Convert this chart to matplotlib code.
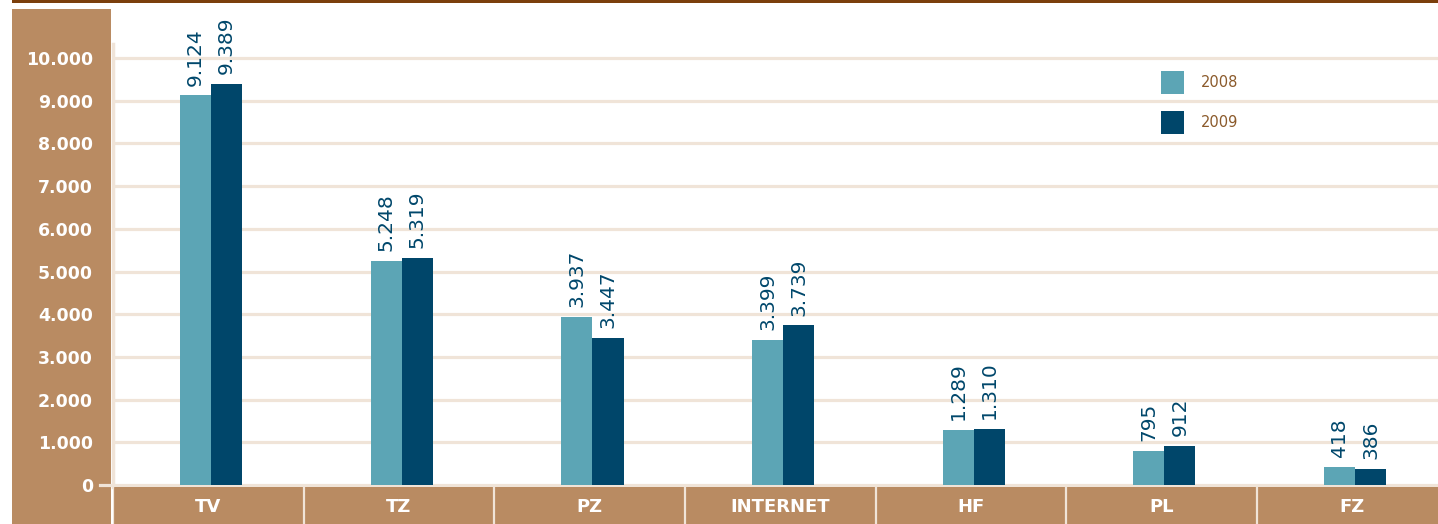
import matplotlib.pyplot as plt
import matplotlib.transforms as mtransforms
from matplotlib.patches import Rectangle
from matplotlib.lines import Line2D

categories = ['TV', 'TZ', 'PZ', 'INTERNET', 'HF', 'PL', 'FZ']
values_2008 = [9124, 5248, 3937, 3399, 1289, 795, 418]
values_2009 = [9389, 5319, 3447, 3739, 1310, 912, 386]
labels_2008 = ['9.124', '5.248', '3.937', '3.399', '1.289', '795', '418']
labels_2009 = ['9.389', '5.319', '3.447', '3.739', '1.310', '912', '386']
yticks = [0, 1000, 2000, 3000, 4000, 5000, 6000, 7000, 8000, 9000, 10000]
ytick_labels = ['0', '1.000', '2.000', '3.000', '4.000', '5.000', '6.000',
                '7.000', '8.000', '9.000', '10.000']
series_names = ['2008', '2009']

c08 = '#5ca5b5'
c09 = '#00466a'
brown = '#b98b62'
grid_c = '#f0e4d8'
W, H = 1438, 524

fig = plt.figure(figsize=(W / 100, H / 100), dpi=100)
fig.patch.set_facecolor('white')

# top rule and left brown panel (behind the axes)
fig.add_artist(Rectangle((12 / W, 1 - 3 / H), 1, 3 / H, transform=fig.transFigure,
                         color='#7b3f0c', lw=0, zorder=-2))
fig.add_artist(Rectangle((12 / W, 0), 99 / W, 1 - 9 / H, transform=fig.transFigure,
                         color=brown, lw=0, zorder=-2))

ax = fig.add_axes([113 / W, (H - 487) / H, (W - 113) / W, (487 - 44) / H])
ax.patch.set_alpha(0)
ax.set_xlim(-0.5, 6.45)
ax.set_ylim(-47, 10330)

for y in yticks:
    ax.axhline(y, color=grid_c, lw=2.3, zorder=0)

x = list(range(len(categories)))
bw = 0.163
off = 0.015
b1 = ax.bar([i + off - bw / 2 for i in x], values_2008, bw, color=c08, zorder=2)
b2 = ax.bar([i + off + bw / 2 for i in x], values_2009, bw, color=c09, zorder=2)

for rects, labs in ((b1, labels_2008), (b2, labels_2009)):
    for r, lab in zip(rects, labs):
        ax.annotate(lab, (r.get_x() + r.get_width() / 2, r.get_height()),
                    xytext=(0, 7), textcoords='offset points', rotation=90,
                    ha='center', va='bottom', color='#00476b', fontsize=14.5)

for s in ax.spines.values():
    s.set_visible(False)
ax.spines['left'].set_visible(True)
ax.spines['left'].set_color(grid_c)
ax.spines['left'].set_linewidth(2.5)
ax.set_xticks([])
ax.set_yticks(yticks)
ax.set_yticklabels(ytick_labels, color='white', fontweight='bold', fontsize=12.5)
ax.tick_params(axis='y', length=0, pad=14.5)

# short tick at zero
trans = mtransforms.blended_transform_factory(fig.transFigure, ax.transData)
fig.add_artist(Line2D([100 / W, 113 / W], [0, 0], transform=trans, color=grid_c, lw=2.3))

# legend (square swatches)
for k, (name, col) in enumerate(zip(series_names, [c08, c09])):
    top = 71 + 40 * k
    fig.add_artist(Rectangle((1161 / W, 1 - (top + 23) / H), 23 / W, 23 / H,
                             transform=fig.transFigure, color=col, lw=0))
    fig.text(1201 / W, 1 - (top + 11.5) / H, name, ha='left', va='center',
             color='#8b5a2b', fontsize=10.5)

# category band
bx = fig.add_axes([113 / W, 0, (W - 113) / W, (H - 487) / H], sharex=ax)
bx.set_facecolor(brown)
for s in bx.spines.values():
    s.set_visible(False)
bx.set_yticks([])
bx.set_ylim(0, 1)
bx.tick_params(axis='x', length=0, labelbottom=False)
for i, cat in enumerate(categories):
    bx.text(i, 0.45, cat, ha='center', va='center', color='white',
            fontweight='bold', fontsize=13)
for i in range(len(categories) + 1):
    bx.axvline(i - 0.5, color=grid_c, lw=1.6)

fig.savefig('out.png', dpi=100)
